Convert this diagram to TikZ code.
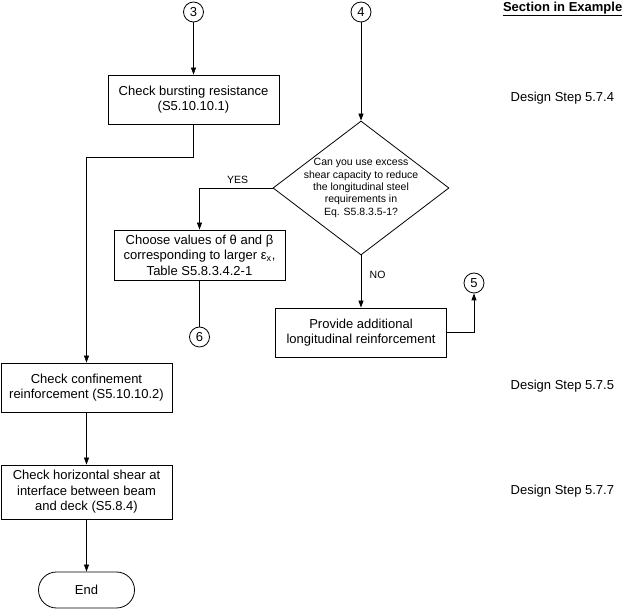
\documentclass[tikz,border=0pt]{standalone}
\usepackage{fontspec}
\setmainfont{Liberation Sans}
\usetikzlibrary{arrows.meta, positioning, shapes.geometric}

\begin{document}
\begin{tikzpicture}[x=1pt,y=-1pt,node distance=50pt,on grid,line width=0.8pt,
    >={Triangle[length=7pt,width=5pt]}]
  \tikzstyle{procbox}=[rectangle,draw,minimum width=171pt,minimum height=49pt,inner sep=0pt,align=center,font=\fontsize{13}{15.5}\selectfont]
  \tikzstyle{connR}=[circle,draw,minimum size=20pt,inner sep=0pt,font=\fontsize{13}{15}\selectfont]
  \tikzstyle{decide}=[diamond,draw,minimum width=176pt,minimum height=134pt,inner sep=0pt]
  \tikzstyle{termR}=[rectangle,draw,rounded corners=18pt,minimum width=96pt,minimum height=36pt,font=\fontsize{13}{15}\selectfont]
  \tikzstyle{small}=[align=center,font=\fontsize{10.5}{12.3}\selectfont]
  \tikzstyle{side}=[anchor=west,font=\fontsize{13}{15}\selectfont]

  \useasboundingbox (0,0) rectangle (625,609);

  % Original nodes
  \node[connR]   (c3)                       at (193.5,12) {3};
  \node[connR]   (c4)                       at (361,12)   {4};
  \node[procbox] (burst)   [below=87.5pt of c3]  {Check bursting resistance\\(S5.10.10.1)};
  \node[decide]  (dec)     [below=176pt of c4]   {};
  \node[small]   (dectext)                  at (dec) {Can you use excess\\shear capacity to reduce\\the longitudinal steel\\requirements in\\Eq. S5.8.3.5-1?};
  \node[procbox,minimum height=50pt] (choose) at (199.5,255) {Choose values of θ and β\\corresponding to larger ε\textsubscript{x},\\Table S5.8.3.4.2-1};
  \node[connR]   (c6)      [below=82pt of choose]  {6};
  \node[procbox] (provide) [below=144.5pt of dec]  {Provide additional\\longitudinal reinforcement};
  \node[connR]   (c5)                       at (474,283) {5};
  \node[procbox] (confine)                  at (86.5,387.5) {Check confinement\\reinforcement (S5.10.10.2)};
  \node[procbox,minimum height=54pt] (horiz) [below=104.5pt of confine] {Check horizontal shear at\\interface between beam\\and deck (S5.8.4)};
  \node[termR]   (fin)     [below=98pt of horiz]  {End};

  % Side notes
  \node[anchor=east,font=\fontsize{13}{15}\selectfont] (secex) at (626,9) {\underline{\textbf{Section in Example}}};
  \node[side] (ds4) at (507,98)  {Design Step 5.7.4};
  \node[side] (ds5) at (507,386) {Design Step 5.7.5};
  \node[side] (ds7) at (507,491) {Design Step 5.7.7};

  \draw[->] (c3) -- (burst);
  \draw[->] (c4) -- (dec);
  \draw[->] (burst.south) -- ++(0,33) -| (confine.north);
  \draw[->] (dec.west) -| node[small, pos=0.24, above=1pt] {YES} (choose.north);
  \draw[->] (dec.south) -- node[small, pos=0.38, right=5pt] {NO} (provide.north);
  \draw (choose) -- (c6);
  \draw[->] (provide.east) -| (c5.south);
  \draw[->] (confine) -- (horiz);
  \draw[->] (horiz) -- (fin);
\end{tikzpicture}
\end{document}
